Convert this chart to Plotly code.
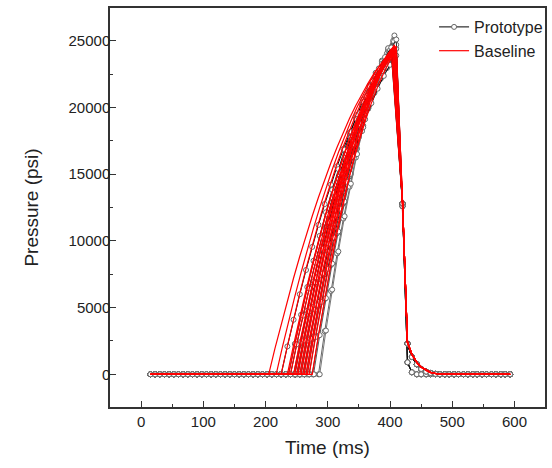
import plotly.graph_objects as go

# ---------------- data ----------------
flat_t = [15, 22.5, 30, 37.5, 45, 52.5, 60, 67.5, 75, 82.5, 90, 97.5, 105, 112.5,
          120, 127.5, 135, 142.5, 150, 157.5, 165, 172.5, 180, 187.5, 195, 202.5,
          210, 217.5, 225, 232.5, 240, 247.5, 255, 262.5, 270, 277.5, 285]
flat_p = 0

tail_t = [420, 428, 435, 443, 450, 458, 465, 473, 480, 488, 495, 503, 510, 518,
          525, 533, 540, 548, 555, 563, 570, 578, 585, 593]
tail_proto_slow = [12800, 2300, 1300, 750, 400, 200, 100, 30, 0, 0, 0, 0, 0, 0,
                   0, 0, 0, 0, 0, 0, 0, 0, 0, 0]
tail_proto_fast = [12600, 900, 150, 0, 0, 0, 0, 0, 0, 0, 0, 0, 0, 0,
                   0, 0, 0, 0, 0, 0, 0, 0, 0, 0]
tail_base = [13000, 2400, 1500, 900, 550, 300, 150, 60, 0, 0, 0, 0, 0, 0,
             0, 0, 0, 0, 0, 0, 0, 0, 0, 0]

rise_step_ms = 10

proto_onset = [225, 237, 245, 247, 255, 257, 265, 267, 275, 277, 285, 287,
               240, 250, 260, 270, 252, 262]
proto_tail = ["slow", "slow", "fast", "slow", "slow", "fast", "slow", "slow",
              "fast", "slow", "fast", "slow", "slow", "slow", "fast", "slow",
              "slow", "slow"]
proto_color = ["#000000", "#111111", "#222222", "#000000", "#333333", "#111111",
               "#222222", "#444444", "#333333", "#555555", "#666666", "#777777",
               "#000000", "#111111", "#000000", "#333333", "#000000", "#222222"]
proto_rise = [
    [0, 2090, 4090, 6000, 7820, 9550, 11200, 12760, 14220, 15600, 16890, 18090,
     19200, 20220, 21160, 22000, 22750, 23420, 24000],
    [0, 2280, 4460, 6540, 8510, 10380, 12150, 13820, 15380, 16840, 18190, 19450,
     20590, 21640, 22590, 23430, 24170, 24800],
    [0, 2310, 4500, 6580, 8560, 10420, 12170, 13810, 15340, 16760, 18070, 19270,
     20360, 21330, 22200, 22960, 23600],
    [0, 2440, 4770, 6970, 9060, 11040, 12890, 14630, 16250, 17760, 19140, 20410,
     21560, 22600, 23520, 24320, 25000],
    [0, 2520, 4910, 7160, 9290, 11290, 13160, 14910, 16520, 18000, 19360, 20590,
     21680, 22650, 23490, 24200],
    [0, 2590, 5050, 7370, 9560, 11620, 13550, 15340, 17000, 18530, 19920, 21180,
     22310, 23310, 24170, 24900],
    [0, 2650, 5150, 7500, 9720, 11780, 13700, 15470, 17100, 18580, 19910, 21100,
     22150, 23050, 23800],
    [0, 2800, 5450, 7950, 10290, 12470, 14500, 16380, 18100, 19670, 21080, 22340,
     23450, 24400, 25200],
    [0, 2900, 5640, 8190, 10580, 12800, 14840, 16710, 18400, 19930, 21280, 22460,
     23470, 24300],
    [0, 2940, 5710, 8300, 10710, 12950, 15020, 16910, 18630, 20170, 21540, 22740,
     23760, 24600],
    [0, 3230, 6250, 9060, 11670, 14060, 16250, 18230, 20000, 21560, 22920, 24060,
     25000],
    [0, 3280, 6350, 9210, 11850, 14290, 16510, 18520, 20320, 21910, 23280, 24450,
     25400],
    [0, 2240, 4390, 6430, 8380, 10220, 11960, 13590, 15130, 16570, 17900, 19130,
     20260, 21290, 22220, 23050, 23780, 24400],
    [0, 2410, 4710, 6890, 8950, 10900, 12740, 14450, 16060, 17540, 18910, 20170,
     21300, 22330, 23230, 24030, 24700],
    [0, 2490, 4840, 7070, 9180, 11150, 13000, 14720, 16320, 17780, 19120, 20330,
     21410, 22370, 23200, 23900],
    [0, 2790, 5430, 7910, 10250, 12420, 14450, 16320, 18030, 19590, 21000, 22260,
     23360, 24310, 25100],
    [0, 2550, 4970, 7250, 9410, 11430, 13330, 15090, 16730, 18230, 19600, 20840,
     21950, 22930, 23780, 24500],
    [0, 2670, 5190, 7570, 9800, 11880, 13810, 15600, 17240, 18730, 20080, 21280,
     22330, 23240, 24000],
]

base_onset = [205, 217, 225, 235, 237, 245, 247, 255, 257, 265, 267, 275,
              240, 250, 252, 260, 262, 270]
base_rise = [
    [0, 1920, 3760, 5530, 7220, 8850, 10390, 11870, 13270, 14600, 15860, 17040,
     18150, 19190, 20150, 21050, 21860, 22610, 23280, 23880, 24400],
    [0, 2030, 3980, 5840, 7630, 9340, 10960, 12500, 13960, 15330, 16630, 17840,
     18970, 20020, 20990, 21870, 22680, 23400, 24040, 24600],
    [0, 2110, 4140, 6080, 7920, 9670, 11340, 12920, 14400, 15800, 17100, 18310,
     19440, 20480, 21420, 22280, 23040, 23710, 24300],
    [0, 2210, 4320, 6330, 8240, 10050, 11760, 13370, 14880, 16290, 17610, 18820,
     19930, 20940, 21860, 22670, 23390, 24000],
    [0, 2250, 4410, 6460, 8410, 10260, 12010, 13650, 15190, 16630, 17970, 19210,
     20340, 21380, 22310, 23150, 23870, 24500],
    [0, 2360, 4610, 6750, 8770, 10680, 12480, 14160, 15730, 17190, 18530, 19760,
     20870, 21870, 22760, 23540, 24200],
    [0, 2400, 4690, 6860, 8920, 10860, 12680, 14400, 15990, 17470, 18830, 20080,
     21220, 22240, 23140, 23930, 24600],
    [0, 2540, 4950, 7220, 9370, 11390, 13270, 15030, 16660, 18150, 19520, 20760,
     21860, 22840, 23690, 24400],
    [0, 2570, 5010, 7310, 9480, 11530, 13440, 15220, 16860, 18380, 19760, 21010,
     22130, 23120, 23980, 24700],
    [0, 2700, 5260, 7660, 9920, 12030, 13980, 15800, 17460, 18970, 20330, 21550,
     22610, 23530, 24300],
    [0, 2720, 5300, 7720, 10000, 12130, 14100, 15930, 17600, 19120, 20500, 21720,
     22800, 23730, 24500],
    [0, 2920, 5660, 8230, 10630, 12850, 14900, 16780, 18480, 20010, 21370, 22550,
     23560, 24400],
    [0, 2240, 4370, 6410, 8340, 10170, 11910, 13540, 15070, 16500, 17830, 19050,
     20180, 21200, 22130, 22960, 23680, 24300],
    [0, 2390, 4670, 6830, 8880, 10810, 12630, 14340, 15930, 17400, 18760, 20000,
     21130, 22150, 23040, 23830, 24500],
    [0, 2520, 4910, 7160, 9290, 11290, 13160, 14910, 16520, 18000, 19360, 20590,
     21680, 22650, 23490, 24200],
    [0, 2560, 4990, 7280, 9450, 11480, 13380, 15150, 16790, 18300, 19680, 20930,
     22040, 23030, 23880, 24600],
    [0, 2710, 5280, 7690, 9960, 12080, 14040, 15860, 17530, 19050, 20420, 21640,
     22710, 23630, 24400],
    [0, 2700, 5260, 7660, 9920, 12030, 13980, 15800, 17460, 18970, 20330, 21550,
     22610, 23530, 24300],
]


def build(onset, rise, tail_vals):
    xs = [t for t in flat_t if t < onset - 3]
    ys = [flat_p] * len(xs)
    xs += [onset + rise_step_ms * i for i in range(len(rise))]
    ys += list(rise)
    xs += tail_t
    ys += tail_vals
    return xs, ys


fig = go.Figure()
FONT = "Liberation Sans, Arial, sans-serif"

for i, (on, r) in enumerate(zip(proto_onset, proto_rise)):
    tv = tail_proto_slow if proto_tail[i] == "slow" else tail_proto_fast
    xs, ys = build(on, r, tv)
    fig.add_trace(go.Scatter(
        x=xs, y=ys, mode="lines+markers", name="Prototype",
        legendgroup="proto", showlegend=(i == 0),
        line=dict(color=proto_color[i], width=1),
        marker=dict(symbol="circle", size=5, color="white",
                    line=dict(color="#666666", width=1)),
    ))

for i, (on, r) in enumerate(zip(base_onset, base_rise)):
    xs, ys = build(on, r, tail_base)
    fig.add_trace(go.Scatter(
        x=xs, y=ys, mode="lines", name="Baseline",
        legendgroup="base", showlegend=(i == 0),
        line=dict(color="#ff0000", width=1.2),
    ))

axis_common = dict(
    showgrid=False, zeroline=False, showline=True, mirror=True,
    linecolor="#333333", linewidth=1.5, ticks="inside", ticklen=6,
    tickcolor="#333333", tickwidth=1,
    tickfont=dict(family=FONT, size=15, color="#222222"),
)

fig.update_layout(
    width=552, height=468,
    margin=dict(l=110, r=4, t=8, b=61),
    paper_bgcolor="white", plot_bgcolor="white",
    font=dict(family=FONT, color="#222222"),
    xaxis=dict(range=[-50, 649], dtick=100, tick0=0, tickformat="d",
               title=dict(text="Time (ms)", font=dict(family=FONT, size=19), standoff=12),
               minor=dict(ticks="inside", ticklen=3, dtick=50, tickcolor="#333333"),
               **axis_common),
    yaxis=dict(range=[-2450, 27460], dtick=5000, tick0=0, tickformat="d",
               ticklabelstandoff=-5,
               title=dict(text="Pressure (psi)", font=dict(family=FONT, size=19), standoff=25),
               minor=dict(ticks="inside", ticklen=3, dtick=2500, tickcolor="#333333"),
               **axis_common),
    legend=dict(x=0.745, y=0.995, xanchor="left", yanchor="top",
                bgcolor="rgba(0,0,0,0)", font=dict(family=FONT, size=16, color="#222222"),
                tracegroupgap=0, itemwidth=30),
)

fig.write_html("out.html")
